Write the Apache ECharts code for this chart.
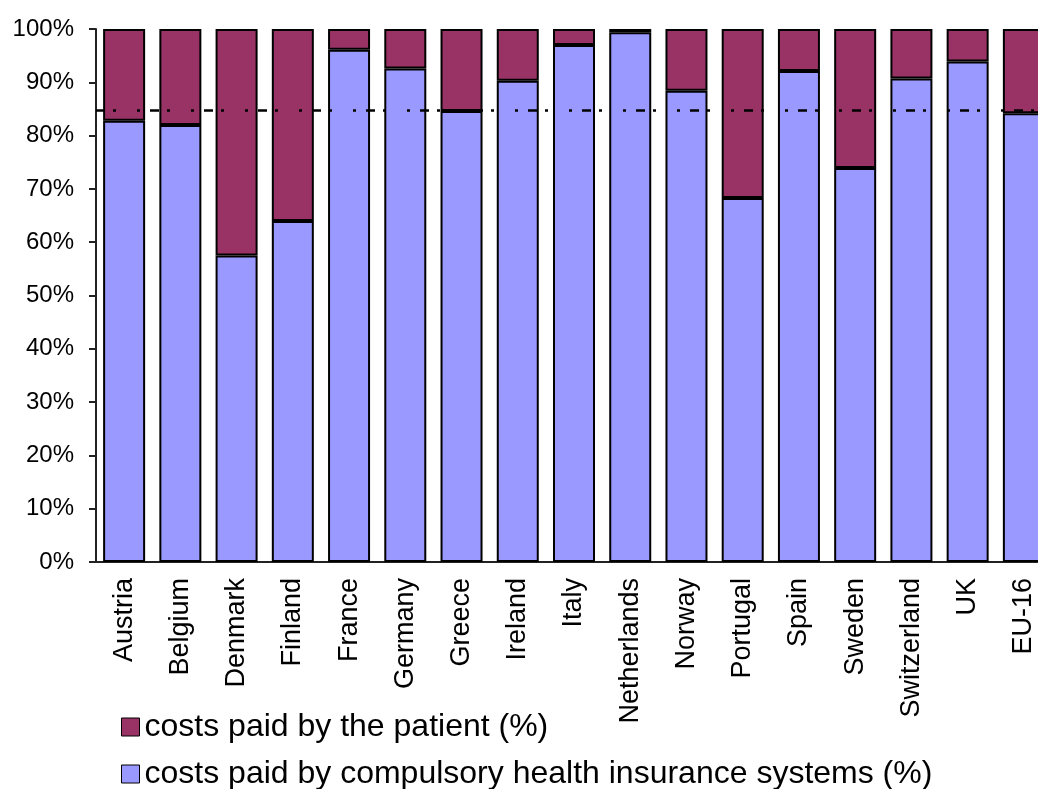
<!DOCTYPE html>
<html>
<head>
<meta charset="utf-8">
<script src="https://cdn.jsdelivr.net/npm/echarts@6/dist/echarts.min.js"></script>
<style>
  html, body { margin: 0; padding: 0; background: #fff; }
  #chart { width: 1038px; height: 789px; }
</style>
</head>
<body>
<div id="chart"></div>
<script>
// countries on the x axis
const countries = ['Austria', 'Belgium', 'Denmark', 'Finland', 'France', 'Germany', 'Greece', 'Ireland',
  'Italy', 'Netherlands', 'Norway', 'Portugal', 'Spain', 'Sweden', 'Switzerland', 'UK', 'EU-16']
// share paid by compulsory health insurance (%)
const compulsory = [82.8, 82.0, 57.5, 64.0, 96.1, 92.6, 84.6, 90.3, 97.0, 99.4, 88.4, 68.3, 92.1, 73.9, 90.7, 93.9, 84.2]
// share paid by the patient (%)
const patient = [17.2, 18.0, 42.5, 36.0, 3.9, 7.4, 15.4, 9.7, 3.0, 0.6, 11.6, 31.7, 7.9, 26.1, 9.3, 6.1, 15.8]
// EU-16 reference line
const refLevel = 84.8
const yTicks = [0, 100, 10] // min, max, step

const nameInsurance = 'costs paid by compulsory health insurance systems (%)'
const namePatient = 'costs paid by the patient (%)'
const font = '"Liberation Sans", Arial, sans-serif'

const chart = echarts.init(document.getElementById('chart'))

// one legend per line so they stack like the original
const legendBase = {
  left: 116,
  itemWidth: 18,
  itemHeight: 18,
  icon: 'rect',
  itemStyle: { borderColor: '#000', borderWidth: 1 },
  textStyle: { fontFamily: font, fontSize: 32, color: '#000' }
}

chart.setOption({
  animation: false,
  grid: { left: 96, top: 29, width: 956, height: 533, outerBoundsMode: 'none' },
  legend: [
    Object.assign({}, legendBase, { top: 706, data: [namePatient] }),
    Object.assign({}, legendBase, { top: 753, data: [nameInsurance] })
  ],
  xAxis: {
    type: 'category',
    data: countries,
    axisLine: { lineStyle: { color: '#222', width: 2 } },
    axisTick: { show: false },
    axisLabel: { rotate: 90, margin: 16, fontFamily: font, fontSize: 27, color: '#000' }
  },
  yAxis: {
    type: 'value',
    min: yTicks[0],
    max: yTicks[1],
    interval: yTicks[2],
    splitLine: { show: false },
    axisLine: { show: true, lineStyle: { color: '#222', width: 2 } },
    axisTick: { show: true, length: 7, lineStyle: { color: '#222', width: 2 } },
    axisLabel: { formatter: '{value}%', margin: 22, fontFamily: font, fontSize: 24, color: '#000' }
  },
  series: [
    {
      name: nameInsurance,
      type: 'bar',
      stack: 'total',
      barWidth: 42,
      data: compulsory,
      itemStyle: { color: '#9999FF', borderColor: '#000', borderWidth: 2 },
      markLine: {
        silent: true,
        symbol: ['none', 'none'],
        label: { show: false },
        lineStyle: { color: '#000', width: 2.5, type: [9, 8, 3, 21, 3, 10] },
        data: [{ yAxis: refLevel }]
      }
    },
    {
      name: namePatient,
      type: 'bar',
      stack: 'total',
      barWidth: 42,
      data: patient,
      itemStyle: { color: '#993366', borderColor: '#000', borderWidth: 2 }
    }
  ]
})
</script>
</body>
</html>
